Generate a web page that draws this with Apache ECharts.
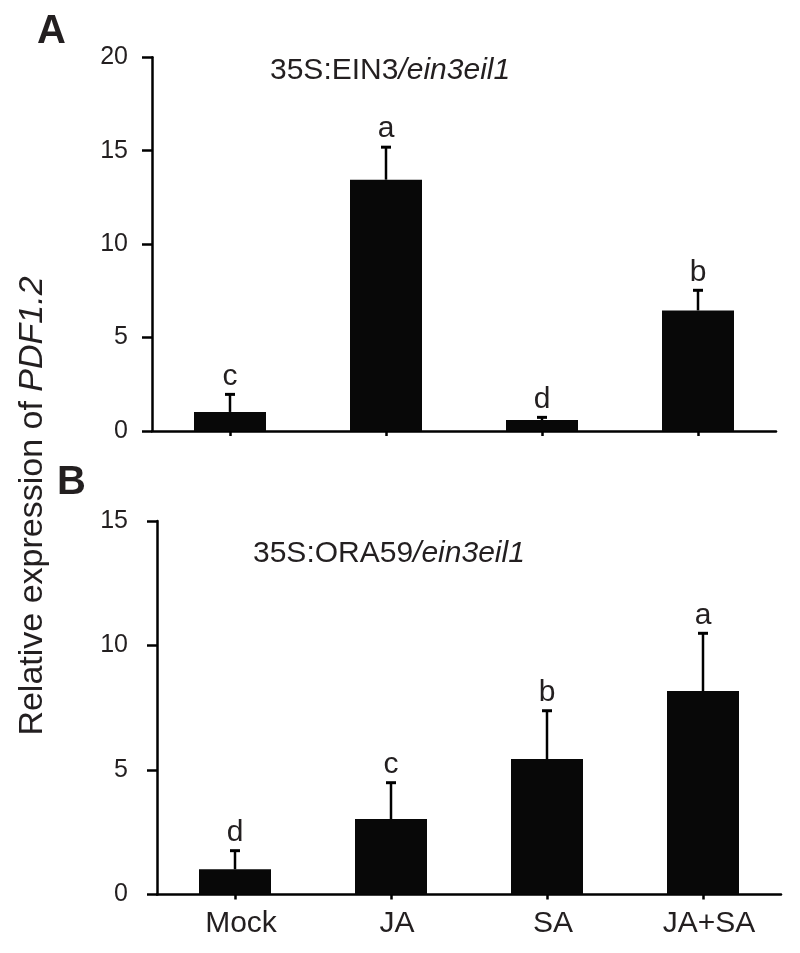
<!DOCTYPE html>
<html>
<head>
<meta charset="utf-8">
<script src="https://cdn.jsdelivr.net/npm/echarts@6/dist/echarts.min.js"></script>
<style>html,body{margin:0;padding:0;background:#fff}#c{width:800px;height:953px}</style>
</head>
<body>
<div id="c"></div>
<script>
const categories = ['Mock', 'JA', 'SA', 'JA+SA'];
const meansA = [1.02, 13.45, 0.59, 6.45];
const errA = [0.94, 1.74, 0.14, 1.08];
const lettersA = ['c', 'a', 'd', 'b'];
const meansB = [1.01, 3.03, 5.44, 8.17];
const errB = [0.75, 1.46, 1.94, 2.32];
const lettersB = ['d', 'c', 'b', 'a'];
const ticksA = {min: 0, max: 20, interval: 5};
const ticksB = {min: 0, max: 15, interval: 5};

const FONT = "'Liberation Sans', Arial, Helvetica, sans-serif";
const TXT = '#231f20';

function errData(means, errs) {
  return means.map((m, i) => [i, m, m + errs[i]]);
}
function makeRender(letters) {
  return function (params, api) {
    const top = api.coord([api.value(0), api.value(2)]);
    const base = api.coord([api.value(0), api.value(1)]);
    return {
      type: 'group',
      children: [
        {type: 'line', shape: {x1: top[0], y1: base[1], x2: top[0], y2: top[1]},
         style: {stroke: '#000', lineWidth: 2.5}},
        {type: 'line', shape: {x1: top[0] - 5, y1: top[1], x2: top[0] + 5, y2: top[1]},
         style: {stroke: '#000', lineWidth: 3}},
        {type: 'text', x: top[0], y: top[1] - 3,
         style: {text: letters[params.dataIndex], fill: TXT, fontSize: 30, fontFamily: FONT,
                 fontWeight: 'normal', align: 'center', verticalAlign: 'bottom'}}
      ]
    };
  };
}

function yAx(gi, t, margin) {
  return {
    type: 'value', gridIndex: gi, min: t.min, max: t.max, interval: t.interval,
    axisLine: {show: true, lineStyle: {color: '#000', width: 2.5}},
    axisTick: {show: true, inside: false, length: 10, lineStyle: {color: '#000', width: 2.5}},
    splitLine: {show: false},
    axisLabel: {color: TXT, fontSize: 25, fontFamily: FONT, margin: margin}
  };
}
function xAx(gi, showLabel) {
  return {
    type: 'category', gridIndex: gi, data: categories,
    axisLine: {show: true, lineStyle: {color: '#000', width: 2.5}},
    axisTick: {show: true, alignWithLabel: true, length: 5, lineStyle: {color: '#000', width: 2.5}},
    axisLabel: {show: showLabel, color: TXT, fontSize: 30, fontFamily: FONT, margin: 14,
                padding: [0, 0, 0, 12]},
    splitLine: {show: false}
  };
}

const richTitle = {
  n: {fontSize: 30, fontFamily: FONT, fontWeight: 'normal', color: TXT},
  i: {fontSize: 30, fontFamily: FONT, fontWeight: 'normal', fontStyle: 'italic', color: TXT}
};

const chart = echarts.init(document.getElementById('c'), null, {renderer: 'canvas'});
chart.setOption({
  backgroundColor: '#fff',
  animation: false,
  title: [
    {left: 265, top: 51, text: '{n|35S:EIN3}{i|/ein3eil1}',
     textStyle: {fontWeight: 'normal', rich: richTitle}},
    {left: 248, top: 534, text: '{n|35S:ORA59}{i|/ein3eil1}',
     textStyle: {fontWeight: 'normal', rich: richTitle}}
  ],
  graphic: [
    {type: 'text', left: 37, top: 12, style: {text: 'A', fontSize: 40, fontWeight: 'bold', fontFamily: FONT, fill: TXT}},
    {type: 'text', left: 57, top: 463, style: {text: 'B', fontSize: 40, fontWeight: 'bold', fontFamily: FONT, fill: TXT}},
    {type: 'text', x: 33, y: 506, rotation: Math.PI / 2,
     style: {text: '{n|Relative expression of }{i|PDF1.2}', align: 'center', verticalAlign: 'middle',
             rich: {n: {fontSize: 34, fontFamily: FONT, fill: TXT},
                    i: {fontSize: 34, fontFamily: FONT, fontStyle: 'italic', fill: TXT}}}}
  ],
  grid: [
    {left: 152, right: 24, top: 57.3, bottom: 522},
    {left: 157, right: 19, top: 521, bottom: 58.5}
  ],
  xAxis: [xAx(0, false), xAx(1, true)],
  yAxis: [yAx(0, ticksA, 24), yAx(1, ticksB, 29)],
  series: [
    {type: 'bar', xAxisIndex: 0, yAxisIndex: 0, data: meansA, barWidth: 72,
     itemStyle: {color: '#080808'}, z: 2},
    {type: 'custom', xAxisIndex: 0, yAxisIndex: 0, data: errData(meansA, errA),
     renderItem: makeRender(lettersA), z: 3, clip: false},
    {type: 'bar', xAxisIndex: 1, yAxisIndex: 1, data: meansB, barWidth: 72,
     itemStyle: {color: '#080808'}, z: 2},
    {type: 'custom', xAxisIndex: 1, yAxisIndex: 1, data: errData(meansB, errB),
     renderItem: makeRender(lettersB), z: 3, clip: false}
  ]
});
</script>
</body>
</html>
